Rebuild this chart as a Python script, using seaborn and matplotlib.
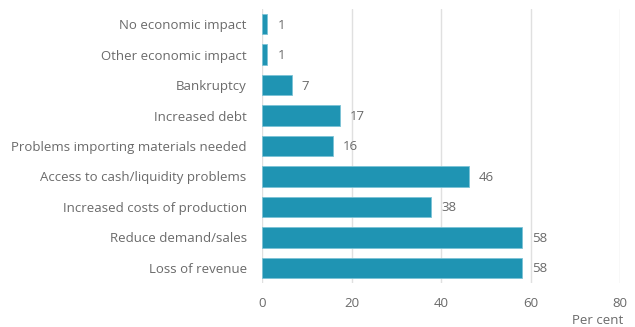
import matplotlib
matplotlib.use("Agg")
import matplotlib.pyplot as plt
import seaborn as sns
import pandas as pd

categories = ["No economic impact", "Other economic impact", "Bankruptcy",
              "Increased debt", "Problems importing materials needed",
              "Access to cash/liquidity problems", "Increased costs of production",
              "Reduce demand/sales", "Loss of revenue"]
values = [1.2, 1.2, 6.6, 17.4, 15.8, 46.2, 37.8, 58.2, 58.2]
labels = ["1", "1", "7", "17", "16", "46", "38", "58", "58"]
xticks = [0, 20, 40, 60, 80]

sns.set_theme(style="white")
plt.rcParams['font.family'] = ['Open Sans', 'DejaVu Sans']

fs = 9.5
tc = "#6a6a6a"
df = pd.DataFrame({"cat": categories, "val": values})
fig = plt.figure(figsize=(6.35, 3.27), dpi=100)
ax = fig.add_axes([262/635, 1-283/327, (620-262)/635, (283-9)/327])
sns.barplot(data=df, x="val", y="cat", orient="h", color="#1f94b3",
            saturation=1, width=0.67, edgecolor="#7cc3d6", linewidth=0.6, ax=ax, zorder=3)
ax.set_xlim(0, 80)
ax.set_xticks(xticks)
ax.set_xticklabels([str(t) for t in xticks])
ax.grid(axis="x", color="#e0e0e0", linewidth=1, zorder=0)
ax.set_axisbelow(True)
for s in ax.spines.values():
    s.set_visible(False)
ax.tick_params(axis="both", length=0, labelsize=fs, colors=tc)
ax.tick_params(axis="x", pad=10)
ax.tick_params(axis="y", pad=11)
ax.set_xlabel("")
ax.set_ylabel("")
for i, (v, l) in enumerate(zip(values, labels)):
    ax.annotate(l, (v, i), xytext=(10, -1), textcoords="offset pixels",
                va="center", ha="left", fontsize=fs, color=tc)
fig.text(623/635, 1-321/327, "Per cent", ha="right", va="center", fontsize=fs, color=tc)
fig.savefig("out.png", dpi=100)
